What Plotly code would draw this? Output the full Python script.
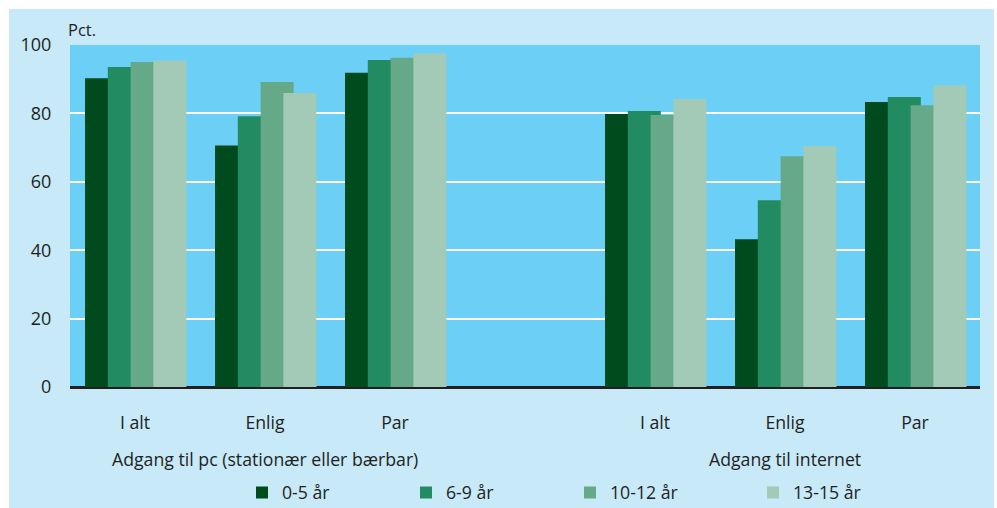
import plotly.graph_objects as go

# ---- data ----
groups = ["Adgang til pc (stationær eller bærbar)", "Adgang til internet"]
categories = ["I alt", "Enlig", "Par"]
series_names = ["0-5 år", "6-9 år", "10-12 år", "13-15 år"]
pc_0_5 = [90.3, 70.6, 91.9]
pc_6_9 = [93.6, 79.2, 95.6]
pc_10_12 = [95.0, 89.2, 96.3]
pc_13_15 = [95.5, 86.0, 97.6]
net_0_5 = [79.8, 43.2, 83.3]
net_6_9 = [80.7, 54.6, 84.8]
net_10_12 = [79.5, 67.5, 82.4]
net_13_15 = [84.2, 70.5, 88.2]
y_ticks = [0, 20, 40, 60, 80, 100]

colors = ["#004B1E", "#228B62", "#66A988", "#A2CAB7"]
pc_series = [pc_0_5, pc_6_9, pc_10_12, pc_13_15]
net_series = [net_0_5, net_6_9, net_10_12, net_13_15]

# positions: each group occupies 3 slots, one empty slot between groups
xpos = [g * (len(categories) + 1) + c for g in range(len(groups)) for c in range(len(categories))]
ticktext = categories * len(groups)

FONT = "Open Sans"
TXT = "#231F20"

W, H = 997, 508
L, R, T, B = 70, 17, 45, 121
pw, ph = W - L - R, H - T - B

def px2x(px):
    return (px - L) / pw

def py2y(py):
    return (H - B - py) / ph

legend_names = ["legend", "legend2", "legend3", "legend4"]
legend_px = [256, 420, 584, 767]   # left edge of legend squares in pixels

fig = go.Figure()
bar_w = 0.254
step = 0.1754
start = -0.3846
for i, name in enumerate(series_names):
    yvals = pc_series[i] + net_series[i]
    fig.add_trace(go.Bar(
        x=xpos, y=yvals, name=name,
        marker=dict(color=colors[i], line=dict(width=0)),
        width=bar_w, offset=start + i * step,
        legend=legend_names[i],
    ))

shapes = [
    dict(type="rect", xref="paper", yref="paper", x0=px2x(-5), x1=px2x(9), y0=py2y(H + 5), y1=py2y(-5),
         fillcolor="white", line=dict(width=0), layer="above"),
    dict(type="rect", xref="paper", yref="paper", x0=px2x(-5), x1=px2x(W + 5), y0=py2y(9), y1=py2y(-5),
         fillcolor="white", line=dict(width=0), layer="above"),
    dict(type="rect", xref="paper", yref="paper", x0=px2x(994), x1=px2x(W + 5), y0=py2y(H + 5), y1=py2y(-5),
         fillcolor="white", line=dict(width=0), layer="above"),
]

annotations = [
    dict(text="Pct.", xref="paper", yref="paper", x=px2x(66), y=py2y(29), xanchor="left", yanchor="middle",
         showarrow=False, font=dict(family=FONT, size=16.5, color=TXT)),
]
group_centers = [(len(categories) - 1) / 2 + g * (len(categories) + 1) for g in range(len(groups))]
for g, label in enumerate(groups):
    annotations.append(dict(text=label, xref="x", yref="paper", x=group_centers[g], y=py2y(459),
                            xanchor="center", yanchor="middle", showarrow=False,
                            font=dict(family=FONT, size=17.7, color=TXT)))

legend_layout = {}
for i, ln in enumerate(legend_names):
    legend_layout[ln] = dict(
        orientation="h", xref="container", yref="container",
        x=(legend_px[i] - 14) / W, y=(H - 493) / H, xanchor="left", yanchor="middle",
        bgcolor="rgba(0,0,0,0)", font=dict(family=FONT, size=17.7, color=TXT),
    )

fig.update_layout(
    width=W, height=H,
    margin=dict(l=L, r=R, t=T, b=B, pad=0, autoexpand=False),
    paper_bgcolor="#C7E9F8",
    plot_bgcolor="#6CCFF5",
    barmode="overlay",
    font=dict(family=FONT, size=17, color=TXT),
    showlegend=True,
    xaxis=dict(range=[-0.5, 6.5], tickvals=xpos, ticktext=ticktext, showgrid=False,
               ticks="outside", ticklen=20, tickcolor="rgba(0,0,0,0)", zeroline=False,
               tickfont=dict(family=FONT, size=17.7, color=TXT), fixedrange=True, automargin=False),
    yaxis=dict(range=[0, 100], tickvals=y_ticks, showgrid=True, gridcolor="white", gridwidth=2,
               zeroline=True, zerolinecolor=TXT, zerolinewidth=2.5,
               ticks="outside", ticklen=14, tickcolor="rgba(0,0,0,0)", automargin=False,
               tickfont=dict(family=FONT, size=18, color=TXT)),
    shapes=shapes,
    annotations=annotations,
    **legend_layout,
)

fig.write_html("out.html", config={"displayModeBar": False},
               post_script="document.body.style.margin='0';document.body.style.overflow='hidden';")
